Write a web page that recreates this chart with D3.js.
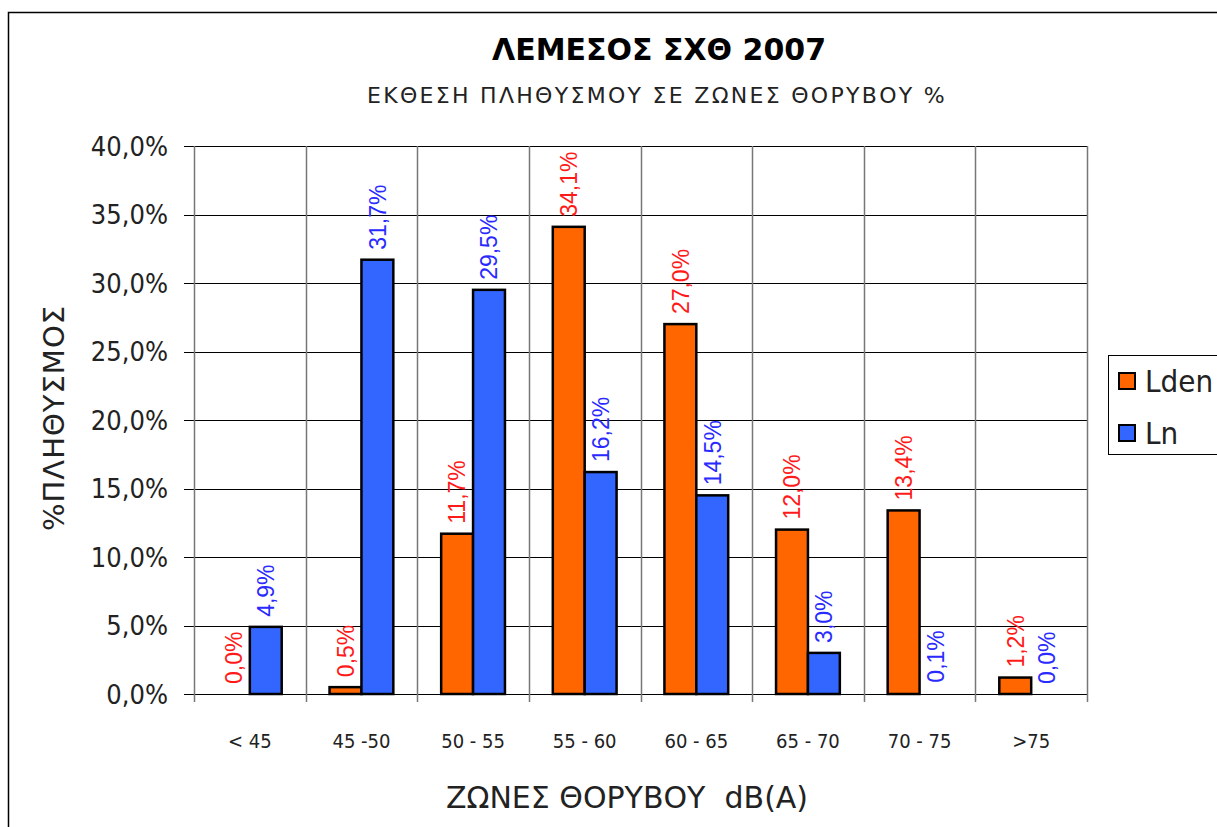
<!DOCTYPE html>
<html>
<head>
<meta charset="utf-8">
<script src="https://cdn.jsdelivr.net/npm/d3@7"></script>
<style>
  body { margin: 0; background: #fff; }
  svg { display: block; }
</style>
</head>
<body>
<svg width="1217" height="827"></svg>
<script>
// data
categories = ["< 45", "45 -50", "50 - 55", "55 - 60", "60 - 65", "65 - 70", "70 - 75", ">75"]
seriesNames = ["Lden", "Ln"]
lden = [0.0, 0.5, 11.7, 34.1, 27.0, 12.0, 13.4, 1.2]
ln = [4.9, 31.7, 29.5, 16.2, 14.5, 3.0, 0.1, 0.0]
yTicks = [0, 5, 10, 15, 20, 25, 30, 35, 40]

fill = {Lden: "#ff6600", Ln: "#3366ff"}
labelColor = {Lden: "#ff1a1a", Ln: "#2a2aff"}

margin = {left: 194, right: 1087, top: 146, bottom: 694}

x = d3.scaleBand()
  .domain(categories)
  .range([margin.left, margin.right])

xs = d3.scaleBand()
  .domain(seriesNames)
  .range([0, x.bandwidth()])
  .paddingOuter(0.75)

y = d3.scaleLinear()
  .domain([0, 40])
  .range([margin.bottom, margin.top])

fmt = v => d3.format(".1f")(v).replace(".", ",") + "%"

rows = categories.map((c, i) => ({cat: c, Lden: lden[i], Ln: ln[i]}))

chart = function() {
  const svg = d3.select("svg")
      .attr("font-family", "'Liberation Sans', Arial, sans-serif");

  // outer frame
  svg.append("rect")
      .attr("x", 8.5).attr("y", 12.5)
      .attr("width", 1230).attr("height", 840)
      .attr("fill", "none").attr("stroke", "#000").attr("stroke-width", 1.5);

  // horizontal gridlines + y ticks
  svg.append("g")
    .selectAll("line")
    .data(yTicks)
    .join("line")
      .attr("x1", margin.left - 10).attr("x2", margin.right)
      .attr("y1", d => Math.round(y(d)) + 0.5).attr("y2", d => Math.round(y(d)) + 0.5)
      .attr("stroke", "#000").attr("stroke-width", 1);

  // vertical category lines (gray)
  const bounds = categories.map(c => x(c)).concat([margin.right]);
  svg.append("g")
    .selectAll("line")
    .data(bounds)
    .join("line")
      .attr("x1", d => Math.round(d) + 0.5).attr("x2", d => Math.round(d) + 0.5)
      .attr("y1", margin.top).attr("y2", margin.bottom + 8)
      .attr("stroke", "#777").attr("stroke-width", 1.5);

  // y tick labels
  svg.append("g")
      .attr("font-family", "'DejaVu Sans Condensed', 'DejaVu Sans', sans-serif")
      .attr("font-size", 27)
      .attr("fill", "#222")
      .attr("text-anchor", "end")
    .selectAll("text")
    .data(yTicks)
    .join("text")
      .attr("x", 168)
      .attr("y", d => y(d))
      .attr("dy", "0.36em")
      .text(d => fmt(d));

  // bars
  const group = svg.append("g")
    .selectAll("g")
    .data(rows)
    .join("g")
      .attr("transform", d => `translate(${x(d.cat)},0)`);

  group.selectAll("rect")
    .data(d => seriesNames.map(k => ({key: k, value: d[k]})).filter(d => d.value >= 0.2))
    .join("rect")
      .attr("x", d => xs(d.key))
      .attr("y", d => y(d.value))
      .attr("width", xs.bandwidth())
      .attr("height", d => y(0) - y(d.value))
      .attr("fill", d => fill[d.key])
      .attr("stroke", "#000")
      .attr("stroke-width", 2.5);

  // value labels, rotated
  group.selectAll("text")
    .data(d => seriesNames.map(k => ({key: k, value: d[k]})))
    .join("text")
      .attr("transform", d => `translate(${xs(d.key) + xs.bandwidth() / 2},${y(d.value) - 10}) rotate(-90)`)
      .attr("dy", "0.36em")
      .attr("font-size", 23)
      .attr("fill", d => labelColor[d.key])
      .text(d => fmt(d.value));

  // x tick labels
  svg.append("g")
      .attr("font-family", "'DejaVu Sans Condensed', 'DejaVu Sans', sans-serif")
      .attr("font-size", 20)
      .attr("fill", "#222")
      .attr("text-anchor", "middle")
    .selectAll("text")
    .data(categories)
    .join("text")
      .attr("x", d => x(d) + x.bandwidth() / 2)
      .attr("y", 748)
      .text(d => d);

  // titles
  svg.append("text")
      .attr("x", 659).attr("y", 60)
      .attr("text-anchor", "middle")
      .attr("font-family", "'DejaVu Sans', sans-serif")
      .attr("font-weight", "bold")
      .attr("font-size", 30)
      .text("ΛΕΜΕΣΟΣ ΣΧΘ 2007");

  svg.append("text")
      .attr("x", 657).attr("y", 103)
      .attr("text-anchor", "middle")
      .attr("font-family", "'DejaVu Sans', sans-serif")
      .attr("font-size", 22)
      .attr("letter-spacing", 2.3)
      .attr("fill", "#222")
      .text("ΕΚΘΕΣΗ ΠΛΗΘΥΣΜΟΥ ΣΕ ΖΩΝΕΣ ΘΟΡΥΒΟΥ %");

  svg.append("text")
      .attr("transform", "translate(64,418) rotate(-90)")
      .attr("text-anchor", "middle")
      .attr("font-family", "'DejaVu Sans', sans-serif")
      .attr("font-size", 29)
      .attr("letter-spacing", 1)
      .attr("fill", "#222")
      .text("%ΠΛΗΘΥΣΜΟΣ");

  svg.append("text")
      .attr("x", 627).attr("y", 808)
      .attr("text-anchor", "middle")
      .attr("font-family", "'DejaVu Sans', sans-serif")
      .attr("font-size", 30)
      .attr("fill", "#222")
      .style("white-space", "pre")
      .text("ΖΩΝΕΣ ΘΟΡΥΒΟΥ  dB(A)");

  // legend
  const legend = svg.append("g");
  legend.append("rect")
      .attr("x", 1108.5).attr("y", 355.5)
      .attr("width", 140).attr("height", 99)
      .attr("fill", "#fff").attr("stroke", "#000").attr("stroke-width", 1);
  const item = legend.selectAll("g")
    .data(seriesNames)
    .join("g")
      .attr("transform", (d, i) => `translate(1119,${373 + i * 52})`);
  item.append("rect")
      .attr("width", 16).attr("height", 16)
      .attr("fill", d => fill[d])
      .attr("stroke", "#000").attr("stroke-width", 2);
  item.append("text")
      .attr("x", 26).attr("y", 8)
      .attr("dy", "0.36em")
      .attr("font-family", "'DejaVu Sans Condensed', 'DejaVu Sans', sans-serif")
      .attr("font-size", 31)
      .attr("fill", "#222")
      .text(d => d);

  return svg.node();
}

chart()
</script>
</body>
</html>
